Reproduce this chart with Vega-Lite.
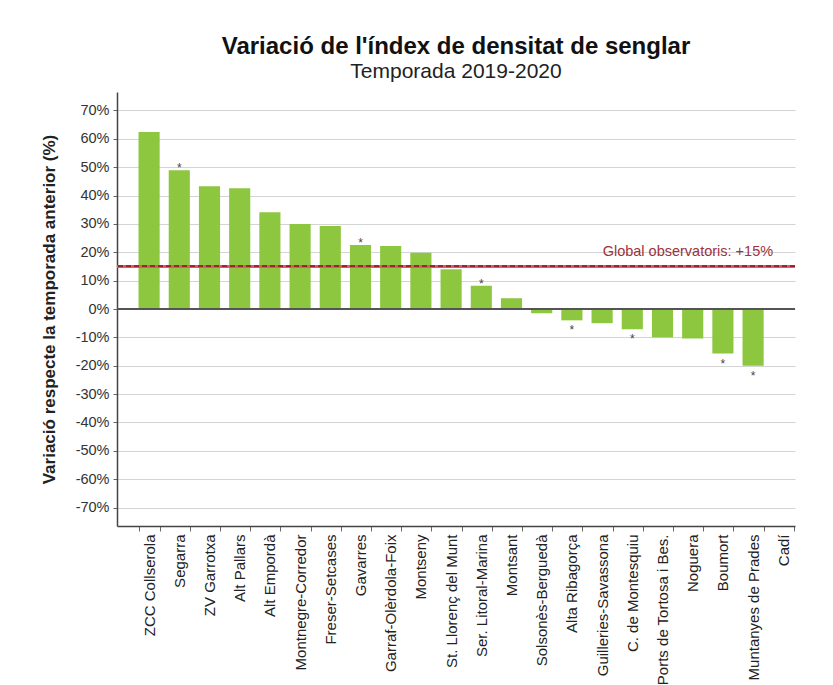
{
  "$schema": "https://vega.github.io/schema/vega-lite/v6.json",
  "width": 678,
  "height": 434,
  "autosize": {"type": "none"},
  "padding": {"left": 117, "top": 92, "right": 38, "bottom": 159},
  "background": "white",
  "config": {
    "font": "Liberation Sans",
    "view": {"stroke": null}
  },
  "title": {
    "text": "Variació de l'índex de densitat de senglar",
    "subtitle": "Temporada 2019-2020",
    "font": "Liberation Sans",
    "subtitleFont": "Liberation Sans",
    "fontSize": 24,
    "fontWeight": "bold",
    "subtitleFontSize": 21,
    "color": "#111111",
    "subtitleColor": "#222222",
    "anchor": "middle",
    "offset": 10,
    "subtitlePadding": 2
  },
  "data": {
    "values": [
      {"zona": "ZCC Collserola", "variacio": 62.4, "signif": false},
      {"zona": "Segarra", "variacio": 48.9, "signif": true},
      {"zona": "ZV Garrotxa", "variacio": 43.3, "signif": false},
      {"zona": "Alt Pallars", "variacio": 42.6, "signif": false},
      {"zona": "Alt Empordà", "variacio": 34.1, "signif": false},
      {"zona": "Montnegre-Corredor", "variacio": 30.0, "signif": false},
      {"zona": "Freser-Setcases", "variacio": 29.3, "signif": false},
      {"zona": "Gavarres", "variacio": 22.6, "signif": true},
      {"zona": "Garraf-Olèrdola-Foix", "variacio": 22.2, "signif": false},
      {"zona": "Montseny", "variacio": 19.8, "signif": false},
      {"zona": "St. Llorenç del Munt", "variacio": 14.0, "signif": false},
      {"zona": "Ser. Litoral-Marina", "variacio": 8.2, "signif": true},
      {"zona": "Montsant", "variacio": 3.8, "signif": false},
      {"zona": "Solsonès-Berguedà", "variacio": -1.5, "signif": false},
      {"zona": "Alta Ribagorça", "variacio": -4.0, "signif": true},
      {"zona": "Guilleries-Savassona", "variacio": -5.0, "signif": false},
      {"zona": "C. de Montesquiu", "variacio": -7.1, "signif": true},
      {"zona": "Ports de Tortosa i Bes.", "variacio": -10.0, "signif": false},
      {"zona": "Noguera", "variacio": -10.4, "signif": false},
      {"zona": "Boumort", "variacio": -15.7, "signif": true},
      {"zona": "Muntanyes de Prades", "variacio": -20.0, "signif": true},
      {"zona": "Cadí", "variacio": null, "signif": false}
    ]
  },
  "encoding": {
    "x": {
      "field": "zona",
      "type": "nominal",
      "sort": null,
      "scale": {
        "domain": ["ZCC Collserola", "Segarra", "ZV Garrotxa", "Alt Pallars", "Alt Empordà", "Montnegre-Corredor", "Freser-Setcases", "Gavarres", "Garraf-Olèrdola-Foix", "Montseny", "St. Llorenç del Munt", "Ser. Litoral-Marina", "Montsant", "Solsonès-Berguedà", "Alta Ribagorça", "Guilleries-Savassona", "C. de Montesquiu", "Ports de Tortosa i Bes.", "Noguera", "Boumort", "Muntanyes de Prades", "Cadí"],
        "paddingInner": 0.3,
        "paddingOuter": 0.375,
        "align": 0.95
      },
      "axis": {
        "title": null,
        "labelAngle": -90,
        "labelFontSize": 15,
        "labelColor": "#222222",
        "labelPadding": 3,
        "tickBand": "extent",
        "tickColor": "#666666",
        "tickSize": 5,
        "domainColor": "#444444",
        "domainWidth": 1.5,
        "grid": false
      }
    },
    "y": {
      "field": "variacio",
      "type": "quantitative",
      "scale": {"domain": [-76.5, 76.5], "nice": false, "zero": false},
      "axis": {
        "title": "Variació respecte la temporada anterior (%)",
        "titleFontSize": 17,
        "titleFontWeight": "bold",
        "titleColor": "#222222",
        "titlePadding": 17,
        "values": [-70, -60, -50, -40, -30, -20, -10, 0, 10, 20, 30, 40, 50, 60, 70],
        "labelExpr": "datum.value + '%'",
        "labelFontSize": 14.5,
        "labelColor": "#333333",
        "labelPadding": 4,
        "tickSize": 4,
        "tickColor": "#666666",
        "domainColor": "#444444",
        "domainWidth": 1.5,
        "grid": true,
        "gridColor": "#d4d4d4",
        "gridWidth": 1
      }
    }
  },
  "layer": [
    {
      "mark": {"type": "bar", "color": "#8dc73f"}
    },
    {
      "mark": {"type": "rule", "color": "#555555", "strokeWidth": 1.5},
      "encoding": {"x": null, "y": {"datum": 0}}
    },
    {
      "mark": {"type": "rule", "color": "#d0606c", "strokeWidth": 1.6},
      "encoding": {"x": null, "y": {"datum": 15}}
    },
    {
      "mark": {"type": "rule", "color": "#a01e2c", "strokeWidth": 1, "strokeDash": [5, 3]},
      "encoding": {"x": null, "y": {"datum": 15}}
    },
    {
      "data": {"values": [{"zona": "Muntanyes de Prades", "variacio": 15, "etiqueta": "Global observatoris: +15%"}]},
      "mark": {"type": "text", "align": "right", "baseline": "alphabetic", "dx": 20, "dy": -10, "fontSize": 14.5, "color": "#a0303c"},
      "encoding": {"text": {"field": "etiqueta"}}
    },
    {
      "transform": [{"filter": "datum.signif && datum.variacio > 0"}],
      "mark": {"type": "text", "align": "center", "baseline": "alphabetic", "dy": 2, "fontSize": 12, "color": "#444444"},
      "encoding": {"text": {"value": "*"}}
    },
    {
      "transform": [{"filter": "datum.signif && datum.variacio < 0"}],
      "mark": {"type": "text", "align": "center", "baseline": "alphabetic", "dy": 14, "fontSize": 12, "color": "#444444"},
      "encoding": {"text": {"value": "*"}}
    }
  ]
}
